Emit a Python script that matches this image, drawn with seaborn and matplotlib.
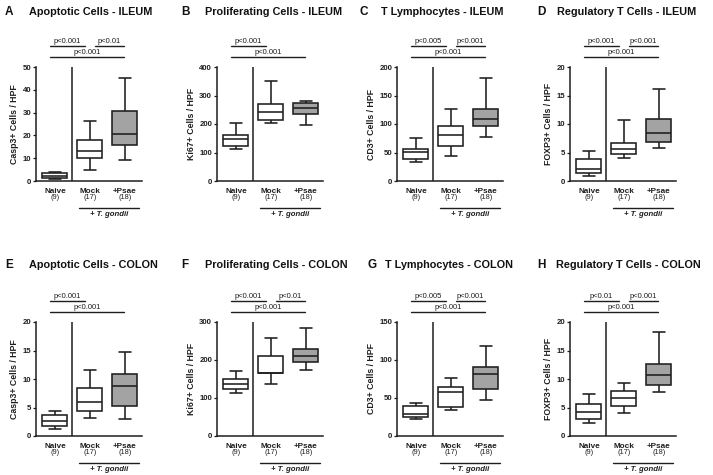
import matplotlib
matplotlib.use('Agg')
import matplotlib.pyplot as plt
import matplotlib.transforms as mtransforms
import numpy as np
import pandas as pd
import seaborn as sns

# five-number summaries per group: min, q1, median, q3, max
groups = ['Naive', 'Mock', '+Psae']
group_n = ['(9)', '(17)', '(18)']

casp3_ileum = [[1.0, 1.5, 2.3, 3.3, 3.8], [5.0, 10.0, 13.3, 18.0, 26.2], [9.3, 15.8, 20.8, 30.8, 45.2]]
ki67_ileum = [[112, 122, 148, 163, 203], [202, 213, 242, 270, 350], [198, 235, 255, 273, 282]]
cd3_ileum = [[33, 38, 51, 57, 75], [44, 62, 80, 96, 127], [77, 96, 109, 126, 181]]
foxp3_ileum = [[0.9, 1.4, 2.1, 3.8, 5.3], [4.0, 4.7, 5.7, 6.7, 10.7], [5.8, 6.8, 8.4, 10.8, 16.2]]
casp3_colon = [[1.3, 1.7, 2.7, 3.6, 4.3], [3.2, 4.3, 6.0, 8.5, 11.5], [3.0, 5.2, 8.8, 10.8, 14.8]]
ki67_colon = [[113, 124, 136, 149, 170], [136, 165, 167, 210, 258], [173, 194, 210, 230, 283]]
cd3_colon = [[23, 25, 29, 39, 43], [34, 38, 58, 65, 76], [48, 62, 82, 91, 118]]
foxp3_colon = [[2.3, 3.0, 4.2, 5.7, 7.3], [4.1, 5.3, 6.7, 7.9, 9.3], [7.8, 9.0, 10.7, 12.7, 18.3]]

letters = ['A', 'B', 'C', 'D', 'E', 'F', 'G', 'H']
titles = ['Apoptotic Cells - ILEUM', 'Proliferating Cells - ILEUM', 'T Lymphocytes - ILEUM',
          'Regulatory T Cells - ILEUM', 'Apoptotic Cells - COLON', 'Proliferating Cells - COLON',
          'T Lymphocytes - COLON', 'Regulatory T Cells - COLON']
ylabels = ['Casp3+ Cells / HPF', 'Ki67+ Cells / HPF', 'CD3+ Cells / HPF', 'FOXP3+ Cells / HPF'] * 2
ymax = [50, 400, 200, 20, 20, 300, 150, 20]
ystep = [10, 100, 50, 5, 5, 100, 50, 5]
# p-values: naive vs mock, mock vs psae, naive vs psae (None = not shown)
p_short1 = ['p<0.001', 'p<0.001', 'p<0.005', 'p<0.001', 'p<0.001', 'p<0.001', 'p<0.005', 'p<0.01']
p_short2 = ['p<0.01', None, 'p<0.001', 'p<0.001', None, 'p<0.01', 'p<0.001', 'p<0.001']
p_long = ['p<0.001'] * 8

panels = [casp3_ileum, ki67_ileum, cd3_ileum, foxp3_ileum,
          casp3_colon, ki67_colon, cd3_colon, foxp3_colon]

sns.set_style('ticks')
plt.rcParams['font.family'] = ['Liberation Sans', 'DejaVu Sans']

W, H = 713, 475
fig = plt.figure(figsize=(W / 100, H / 100), dpi=100)
ink = '#1e1e1e'

# pixel layout (left edge of y axis, top of axes)
ax_left = [36, 217, 397, 570]
ax_top = [67, 322]
ax_w, ax_h = 106, 114
letter_x = [[5, 181, 360, 537], [5, 181, 368, 537]]
title_x = [[29, 205, 381, 557], [29, 205, 385, 556]]
title_y = [12, 265]


def px_to_ax(x, y):
    return x / W, 1 - y / H


for i, stats in enumerate(panels):
    row, col = divmod(i, 4)
    left = ax_left[col]
    top = ax_top[row]
    ax = fig.add_axes([left / W, (H - top - ax_h) / H, ax_w / W, ax_h / H])

    df = pd.DataFrame({
        'group': np.repeat(groups, 5),
        'value': np.concatenate(stats),
    })
    sns.boxplot(data=df, x='group', y='value', hue='group', order=groups, hue_order=groups,
                palette=['white', 'white', '#a3a3a3'], whis=(0, 100), width=0.72,
                linecolor=ink, linewidth=1.15, legend=False, ax=ax)

    ax.set_xlim(-0.54, 2.49)
    ax.set_ylim(0, ymax[i])
    ax.set_yticks(np.arange(0, ymax[i] + 0.1, ystep[i]))
    ax.tick_params(axis='y', labelsize=5.6, length=2.5, width=0.9, pad=1, colors=ink)
    for lab in ax.get_yticklabels():
        lab.set_fontweight('bold')
    ax.set_xticks([])
    ax.set_xlabel('')
    ax.set_ylabel(ylabels[i], fontsize=6.3, fontweight='bold', labelpad=2.5, color=ink)
    sns.despine(ax=ax)
    for s in ['left', 'bottom']:
        ax.spines[s].set_linewidth(1.1)
        ax.spines[s].set_color(ink)
    ax.axvline(0.5, color=ink, lw=1.1)

    trans = mtransforms.blended_transform_factory(ax.transData, ax.transAxes)
    # group labels
    for k, (g, n) in enumerate(zip(groups, group_n)):
        ax.text(k, -0.088, g, transform=trans, ha='center', va='center',
                fontsize=5.9, fontweight='bold', color=ink)
        ax.text(k, -0.145, n, transform=trans, ha='center', va='center',
                fontsize=5.3, color=ink)
    ax.plot([0.68, 2.4], [-0.237, -0.237], transform=trans, color=ink, lw=1.0, clip_on=False)
    ax.text(1.54, -0.29, '+ T. gondii', transform=trans, ha='center', va='center',
            fontsize=5.6, fontweight='bold', style='italic', color=ink)

    # significance bars
    bars = [(-0.14, 0.86, 1.184, p_short1[i]), (1.14, 1.97, 1.184, p_short2[i]),
            (-0.14, 1.97, 1.088, p_long[i])]
    for x0, x1, yb, txt in bars:
        if txt is None:
            continue
        ax.plot([x0, x1], [yb, yb], transform=trans, color=ink, lw=1.0, clip_on=False)
        ax.text((x0 + x1) / 2, yb + 0.008, txt, transform=trans, ha='center', va='bottom',
                fontsize=5.5, color=ink)

    lx, ly = px_to_ax(letter_x[row][col], title_y[row])
    fig.text(lx, ly, letters[i], fontsize=8.5, fontweight='bold', va='center', color='#111111')
    tx, ty = px_to_ax(title_x[row][col], title_y[row])
    fig.text(tx, ty, titles[i], fontsize=7.8, fontweight='bold', va='center', color='#111111')

fig.savefig('out.png', dpi=100, facecolor='white')
